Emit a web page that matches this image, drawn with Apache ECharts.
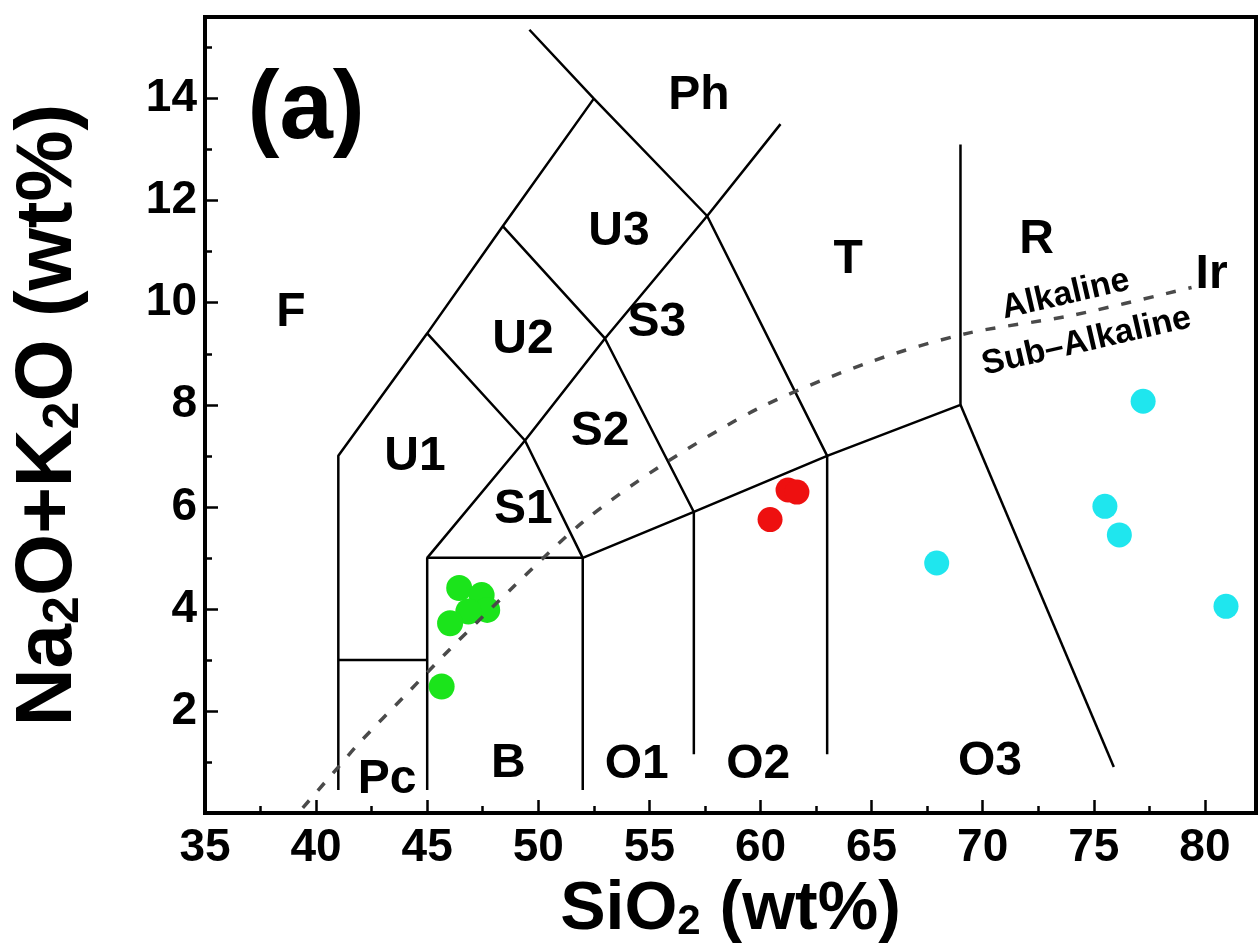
<!DOCTYPE html>
<html>
<head>
<meta charset="utf-8">
<script src="https://cdn.jsdelivr.net/npm/echarts@6.0.0/dist/echarts.min.js"></script>
<style>
  html, body { margin: 0; padding: 0; background: #fff; }
  #chart { width: 1259px; height: 945px; }
</style>
</head>
<body>
<div id="chart"></div>
<script>
// tick labels shown on the axes
const xTickLabels = [35, 40, 45, 50, 55, 60, 65, 70, 75, 80];
const yTickLabels = [2, 4, 6, 8, 10, 12, 14];

// samples: [SiO2, Na2O+K2O]
const greenPts = [[46.44, 4.41], [47.45, 4.27], [47.7, 3.98], [46.85, 3.95], [46.03, 3.72], [45.65, 2.48]];
const redPts = [[60.43, 5.75], [61.24, 6.33], [61.64, 6.29]];
const cyanPts = [[67.93, 4.9], [75.5, 6.01], [76.15, 5.45], [77.22, 8.07], [80.95, 4.05]];

// TAS field boundaries
const leftEdge = [[41, 0.45], [41, 7], [45, 9.4], [48.4, 11.5], [52.5, 14]];
const phBase = [[49.6, 15.35], [52.5, 14], [57.6, 11.7], [63, 7], [63, 1.15]];
const ridge = [[45, 5], [49.4, 7.3], [53, 9.3], [57.6, 11.7], [60.9, 13.5]];
const u2Line = [[45, 9.4], [49.4, 7.3], [52, 5], [52, 0.45]];
const u3Line = [[48.4, 11.5], [53, 9.3], [57, 5.9], [57, 1.15]];
const baseLine = [[45, 0.45], [45, 5], [52, 5], [57, 5.9], [63, 7], [69, 8], [69, 13.1]];
const pcTop = [[41, 3], [45, 3]];
const o3Line = [[69, 8], [75.9, 0.9]];

// alkaline / sub-alkaline divide
const alkLine = [[39.4, 0.1], [41, 0.9], [42, 1.4], [44, 2.3], [46, 3.2], [48.8, 4.4], [52, 5.7],
  [55.5, 6.8], [60, 7.95], [65, 8.85], [69.3, 9.4], [74, 9.75], [79.4, 10.3]];

// field names
const regionNames = ['F', 'Ph', 'U3', 'U2', 'S3', 'T', 'R', 'U1', 'S2', 'S1', 'Pc', 'B', 'O1', 'O2', 'O3', 'Ir'];
const regionPos = [[38.87, 9.8], [57.23, 14.06], [53.63, 11.39], [49.31, 9.27], [55.34, 9.61], [63.94, 10.84],
  [72.43, 11.24], [44.45, 6.99], [52.78, 7.48], [49.33, 5.94], [43.2, 0.65], [48.65, 0.97], [54.43, 0.94],
  [59.9, 0.94], [70.33, 1.01], [80.3, 10.55]];
const seriesNames = ['Alkaline', 'Sub\u2013Alkaline'];
const seriesNamePos = [[73.73, 10.16], [74.67, 9.24]];

const FONT = "'Liberation Sans', Arial, sans-serif";
const chart = echarts.init(document.getElementById('chart'));

const boundaries = [leftEdge, phBase, ridge, u2Line, u3Line, baseLine, pcTop, o3Line];

const baseAxisX = { type: 'value', min: 35, max: 82.3, splitLine: { show: false } };
const baseAxisY = { type: 'value', min: 0, max: 15.6, splitLine: { show: false } };
const subRich = {
  m: { fontFamily: FONT, fontWeight: 'bold', color: '#000' },
  s: { fontFamily: FONT, fontWeight: 'bold', color: '#000', verticalAlign: 'bottom', lineHeight: 14 }
};

// text-only scatter helper
function textSeries(names, pos, size, rotate) {
  return {
    type: 'scatter', data: names.map((n, i) => ({ name: n, value: pos[i] })),
    symbolSize: 0, silent: true, itemStyle: { opacity: 1 },
    label: {
      show: true, position: 'inside', formatter: '{b}', rotate: rotate || 0,
      fontFamily: FONT, fontWeight: 'bold', fontSize: size, color: '#000'
    }
  };
}

chart.setOption({
  animation: false,
  backgroundColor: '#fff',
  grid: {
    left: 205, top: 17, right: 3, bottom: 132,
    show: true, borderColor: '#000', borderWidth: 4,
    outerBoundsMode: 'none'
  },
  xAxis: [
    Object.assign({}, baseAxisX, {
      interval: 5,
      position: 'bottom',
      axisLine: { show: true, onZero: false, lineStyle: { color: '#000', width: 4 } },
      axisTick: { inside: true, length: 13, lineStyle: { color: '#000', width: 2.5 } },
      axisLabel: {
        margin: 12, fontSize: 46, fontWeight: 'bold', fontFamily: FONT, color: '#000',
        formatter: v => (xTickLabels.includes(v) ? String(v) : '')
      },
      name: '{m|SiO}{s|2}{m| (wt%)}',
      nameLocation: 'middle',
      nameGap: 45,
      nameTextStyle: {
        rich: {
          m: Object.assign({}, subRich.m, { fontSize: 68, lineHeight: 68 }),
          s: Object.assign({}, subRich.s, { fontSize: 42 })
        }
      }
    }),
    Object.assign({}, baseAxisX, {
      interval: 2.5,
      position: 'bottom',
      axisLine: { show: false, onZero: false },
      axisTick: { inside: true, length: 7, lineStyle: { color: '#000', width: 2.5 } },
      axisLabel: { show: false }
    })
  ],
  yAxis: [
    Object.assign({}, baseAxisY, {
      interval: 2,
      position: 'left',
      axisLine: { show: true, onZero: false, lineStyle: { color: '#000', width: 4 } },
      axisTick: { inside: true, length: 13, lineStyle: { color: '#000', width: 2.5 } },
      axisLabel: {
        margin: 8, fontSize: 46, fontWeight: 'bold', fontFamily: FONT, color: '#000',
        formatter: v => (yTickLabels.includes(v) ? String(v) : '')
      },
      name: '{m|Na}{s|2}{m|O+K}{s|2}{m|O (wt%)}',
      nameLocation: 'middle',
      nameGap: 116,
      nameTextStyle: {
        rich: {
          m: Object.assign({}, subRich.m, { fontSize: 80, lineHeight: 80 }),
          s: Object.assign({}, subRich.s, { fontSize: 50 })
        }
      }
    }),
    Object.assign({}, baseAxisY, {
      interval: 1,
      position: 'left',
      axisLine: { show: false, onZero: false },
      axisTick: { inside: true, length: 7, lineStyle: { color: '#000', width: 2.5 } },
      axisLabel: { show: false }
    })
  ],
  series: [
    ...boundaries.map(d => ({
      type: 'line', data: d, symbol: 'none', silent: true,
      lineStyle: { color: '#000', width: 2.5 }
    })),
    {
      type: 'line', data: alkLine, symbol: 'none', silent: true, smooth: 0.3,
      lineStyle: { color: '#4a4a4a', width: 3.5, type: [10, 13] }
    },
    textSeries(regionNames, regionPos, 48),
    textSeries(seriesNames, seriesNamePos, 34, 13),
    textSeries(['(a)'], [[39.55, 13.75]], 96),
    { type: 'scatter', data: greenPts, symbolSize: 26, itemStyle: { color: '#1be41b', opacity: 1 } },
    { type: 'scatter', data: redPts, symbolSize: 25, itemStyle: { color: '#ee1010', opacity: 1 } },
    { type: 'scatter', data: cyanPts, symbolSize: 25, itemStyle: { color: '#1fe6ee', opacity: 1 } }
  ]
});
</script>
</body>
</html>
